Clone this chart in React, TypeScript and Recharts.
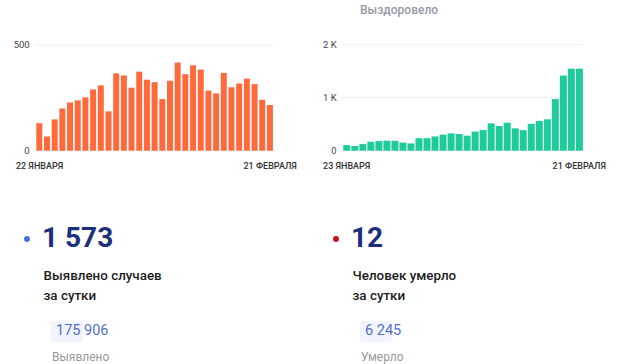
import { Bar, BarChart, CartesianGrid, XAxis, YAxis } from "recharts";

// Новые случаи по дням, 22 января – 21 февраля
const CASES_DAYS = [
  "22 ЯНВАРЯ", "23 ЯНВАРЯ", "24 ЯНВАРЯ", "25 ЯНВАРЯ", "26 ЯНВАРЯ", "27 ЯНВАРЯ",
  "28 ЯНВАРЯ", "29 ЯНВАРЯ", "30 ЯНВАРЯ", "31 ЯНВАРЯ", "1 ФЕВРАЛЯ", "2 ФЕВРАЛЯ",
  "3 ФЕВРАЛЯ", "4 ФЕВРАЛЯ", "5 ФЕВРАЛЯ", "6 ФЕВРАЛЯ", "7 ФЕВРАЛЯ", "8 ФЕВРАЛЯ",
  "9 ФЕВРАЛЯ", "10 ФЕВРАЛЯ", "11 ФЕВРАЛЯ", "12 ФЕВРАЛЯ", "13 ФЕВРАЛЯ", "14 ФЕВРАЛЯ",
  "15 ФЕВРАЛЯ", "16 ФЕВРАЛЯ", "17 ФЕВРАЛЯ", "18 ФЕВРАЛЯ", "19 ФЕВРАЛЯ", "20 ФЕВРАЛЯ",
  "21 ФЕВРАЛЯ",
];
const CASES = [
  130, 67, 148, 200, 228, 238, 252, 290, 309, 186, 366, 356, 298, 374, 336, 324,
  244, 331, 417, 362, 404, 384, 284, 271, 368, 300, 318, 341, 315, 241, 216,
];
const CASES_TICKS = [0, 500];

// Выздоровело по дням, 23 января – 21 февраля
const RECOVERED_DAYS = CASES_DAYS.slice(1);
const RECOVERED = [
  105, 88, 125, 168, 180, 188, 186, 152, 136, 235, 235, 268, 302, 326, 314, 282,
  360, 388, 514, 464, 527, 420, 386, 505, 560, 590, 972, 1413, 1542, 1542,
];
const RECOVERED_TICKS = [0, 1000, 2000];

const FONT = "Roboto, sans-serif";

const casesRows = CASES_DAYS.map((day, i) => ({ day, value: CASES[i] }));
const recoveredRows = RECOVERED_DAYS.map((day, i) => ({ day, value: RECOVERED[i] }));

const fmtK = (v: number) => (v === 0 ? "0" : `${v / 1000} K`);

function YTick(props: any) {
  const { x, y, payload, formatter } = props;
  return (
    <text x={x - 6} y={y} dy={3.4} textAnchor="end" fontSize={9.5} fill="#444" fontFamily={FONT}>
      {formatter ? formatter(payload.value) : payload.value}
    </text>
  );
}

function XTick(props: any) {
  const { x, y, payload } = props;
  return (
    <text x={x} y={y} dy={17.8} textAnchor="middle" fontSize={9} fontWeight={500} fill="#333" fontFamily={FONT}>
      {payload.value}
    </text>
  );
}

type MiniBarsProps = {
  rows: { day: string; value: number }[];
  ticks: number[];
  color: string;
  yWidth: number;
  right: number;
  top: number;
  formatter?: (v: number) => string;
};

function MiniBars({ rows, ticks, color, yWidth, right, top, formatter }: MiniBarsProps) {
  return (
    <BarChart
      width={310}
      height={180}
      data={rows}
      margin={{ top, right, bottom: 0, left: 0 }}
      barCategoryGap={0.6}
    >
      <CartesianGrid vertical={false} stroke="#eeeeee" />
      <XAxis
        dataKey="day"
        ticks={[rows[0].day, rows[rows.length - 1].day]}
        interval={0}
        axisLine={false}
        tickLine={false}
        tickSize={0}
        tickMargin={0}
        height={29.3}
        tick={<XTick />}
      />
      <YAxis
        width={yWidth}
        domain={[0, ticks[ticks.length - 1]]}
        ticks={ticks}
        axisLine={false}
        tickLine={false}
        tickSize={0}
        tickMargin={0}
        tick={<YTick formatter={formatter} />}
      />
      <Bar dataKey="value" fill={color} isAnimationActive={false} />
    </BarChart>
  );
}

type StatProps = {
  left: number;
  dot: string;
  big: string;
  lines: string[];
  total: string;
  totalLabel: string;
};

// text placed by baseline: Roboto baseline sits ~0.842em below top with line-height 1
const at = (x: number, baseline: number, size: number) => ({
  position: "absolute" as const,
  left: x,
  top: baseline - 0.842 * size,
  fontSize: size,
  lineHeight: `${size}px`,
  whiteSpace: "nowrap" as const,
});

function Stat({ left, dot, big, lines, total, totalLabel }: StatProps) {
  return (
    <div style={{ position: "absolute", left, top: 0 }}>
      <div
        style={{
          position: "absolute",
          left: 24,
          top: 235.5,
          width: 6.4,
          height: 6.4,
          borderRadius: "50%",
          background: dot,
        }}
      />
      <div style={{ ...at(42, 248, 28), fontWeight: 700, color: "#1b2f7a" }}>{big}</div>
      {lines.map((line, i) => (
        <div key={line} style={{ ...at(43.5, 280.5 + i * 19.5, 13.4), fontWeight: 500, color: "#1d1d1d" }}>
          {line}
        </div>
      ))}
      <div
        style={{
          position: "absolute",
          left: 51,
          top: 321,
          height: 21,
          padding: "0 3px 0 5px",
          background: "#f1f4fc",
          borderRadius: 2,
        }}
      >
        <div style={{ ...at(5, 15.5, 14.5), color: "#5470c6" }}>{total}</div>
        <span style={{ visibility: "hidden", fontSize: 14.5, lineHeight: "21px" }}>{total}</span>
      </div>
      <div style={{ ...at(52, 361.5, 12), color: "#9a9a9a" }}>{totalLabel}</div>
    </div>
  );
}

export default function App() {
  return (
    <div
      style={{
        position: "absolute",
        left: 0,
        top: 0,
        width: 620,
        height: 364,
        background: "#fff",
        overflow: "hidden",
        fontFamily: FONT,
      }}
    >
      <div style={{ ...at(360, 14, 12), fontWeight: 500, color: "#959aa6" }}>Выздоровело</div>
      <div style={{ position: "absolute", left: 0, top: 0 }}>
        <MiniBars rows={casesRows} ticks={CASES_TICKS} color="#ff6a3c" yWidth={35.7} right={36} top={45} />
      </div>
      <div style={{ position: "absolute", left: 310, top: 0 }}>
        <MiniBars
          rows={recoveredRows}
          ticks={RECOVERED_TICKS}
          color="#1fcb9a"
          yWidth={32.7}
          right={36.7}
          top={44.3}
          formatter={fmtK}
        />
      </div>
      <Stat
        left={0}
        dot="#4a6ee0"
        big="1 573"
        lines={["Выявлено случаев", "за сутки"]}
        total="175 906"
        totalLabel="Выявлено"
      />
      <Stat
        left={309}
        dot="#cc1126"
        big="12"
        lines={["Человек умерло", "за сутки"]}
        total="6 245"
        totalLabel="Умерло"
      />
    </div>
  );
}
